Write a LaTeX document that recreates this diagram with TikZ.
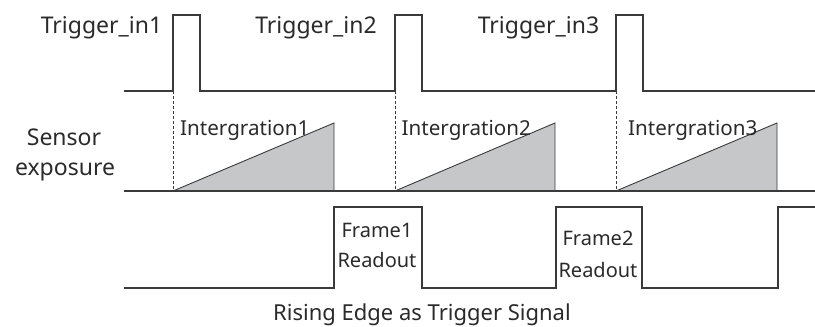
\documentclass[tikz,border=0pt]{standalone}
\usepackage{fontspec}
\setmainfont{Noto Sans}
\definecolor{sig}{HTML}{3A3A3A}
\definecolor{txt}{HTML}{2A2A2A}
\definecolor{tri}{HTML}{C6C7C9}
\begin{document}
\begin{tikzpicture}[x=1pt,y=-1pt,
  sigline/.style={draw=sig,line width=1.1pt,line join=miter},
  guide/.style={draw=sig,line width=0.8pt,dash pattern=on 3pt off 2pt},
  ramp/.style={draw=sig,line width=0.9pt,fill=tri},
  lbl/.style={text=txt,inner sep=0pt,anchor=base},
  lblw/.style={text=txt,inner sep=0pt,anchor=base west},
  big/.style={font=\fontsize{23}{28}\selectfont},
  mid/.style={font=\fontsize{20.6}{25}\selectfont},
  small/.style={font=\fontsize{20}{24}\selectfont}]
\useasboundingbox (0,0) rectangle (815,327);
% trigger signal
\coordinate (t0) at (124,91);
\coordinate (r1) at (173,91);
\coordinate (r2) at (395,91);
\coordinate (r3) at (616,91);
\coordinate (tend) at (815,91);
\draw[sigline] (t0) -- (r1) -- (173,15) -- (200,15) -- (200,91) -- (r2) -- (395,15) -- (422,15) -- (422,91) -- (r3) -- (616,15) -- (643,15) -- (643,91) -- (tend);
% exposure
\coordinate (e0) at (124,191);
\coordinate (b1) at (173,191);
\coordinate (b2) at (395,191);
\coordinate (b3) at (616,191);
\coordinate (eend) at (815,191);
\draw[ramp] (b1) -- (334,123) -- (334,191) -- cycle;
\draw[ramp] (b2) -- (555,123) -- (555,191) -- cycle;
\draw[ramp] (b3) -- (777,123) -- (777,191) -- cycle;
\draw[sigline] (e0) -- (eend);
\draw[guide] (r1) -- (b1);
\draw[guide] (r2) -- (b2);
\draw[guide] (r3) -- (b3);
% readout signal
\coordinate (f0) at (124,288);
\coordinate (fend) at (815,207);
\draw[sigline] (f0) -- (334,288) -- (334,207) -- (422,207) -- (422,288) -- (556,288) -- (556,207) -- (642,207) -- (642,288) -- (778,288) -- (778,207) -- (fend);
% labels
\node[lbl,big] (ti1) at (101.5,33) {Trigger\_in1};
\node[lbl,big] (ti2) at (316,33) {Trigger\_in2};
\node[lbl,big] (ti3) at (538.5,33) {Trigger\_in3};
\node[lbl,big] (se1) at (64,145) {Sensor};
\node[lbl,big] (se2) at (65,175) {exposure};
\node[lblw,mid] (in1) at (180,135) {Intergration1};
\node[lblw,mid] (in2) at (401.5,135) {Intergration2};
\node[lblw,mid] (in3) at (628,135) {Intergration3};
\node[lbl,small] (fr1) at (377,237) {Frame1};
\node[lbl,small] (ro1) at (377,267) {Readout};
\node[lbl,small] (fr2) at (598,245) {Frame2};
\node[lbl,small] (ro2) at (598,277) {Readout};
\node[lbl,font=\fontsize{22}{26}\selectfont] (cap) at (422,320) {Rising Edge as Trigger Signal};
\end{tikzpicture}
\end{document}
